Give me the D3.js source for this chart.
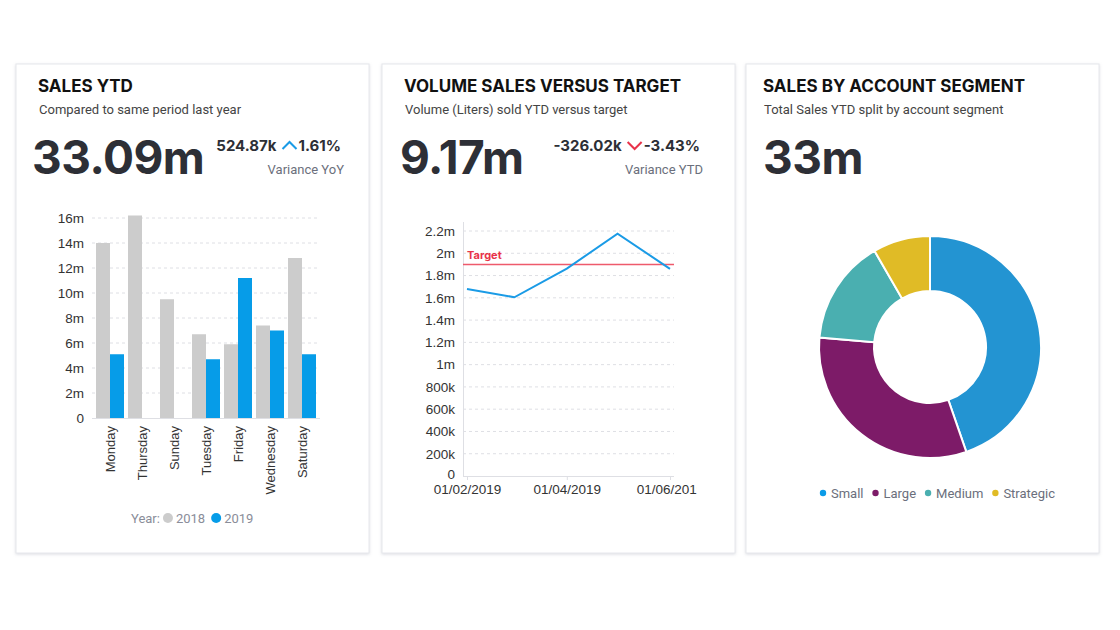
<!DOCTYPE html>
<html>
<head>
<meta charset="utf-8">
<script src="https://cdn.jsdelivr.net/npm/d3@7"></script>
<style>
  body { margin: 0; background: #fff; }
  svg { display: block; font-family: Roboto, "Noto Sans", sans-serif; }
  .heavy { font-family: Inter, Roboto, sans-serif; }
</style>
</head>
<body>
<svg id="dash" width="1120" height="630"></svg>
<script>
// sales ytd by weekday
const days = ['Monday', 'Thursday', 'Sunday', 'Tuesday', 'Friday', 'Wednesday', 'Saturday']
const years = ['2018', '2019']
const sales2018 = [14.0, 16.2, 9.5, 6.7, 5.9, 7.4, 12.8]
const sales2019 = [5.1, 0, 0, 4.7, 11.2, 7.0, 5.1]
const barTicks = [0, 2, 4, 6, 8, 10, 12, 14, 16]

// volume vs target
const months = ['2019-02-01', '2019-03-01', '2019-04-01', '2019-05-01', '2019-06-01']
const volume = [1680000, 1605000, 1862000, 2176000, 1860000]
const target = 1900000
const volTicks = [0, 200000, 400000, 600000, 800000, 1000000, 1200000, 1400000, 1600000, 1800000, 2000000, 2200000]
const dateTicks = ['2019-02-01', '2019-04-01', '2019-06-01']

// segments
const segments = ['Small', 'Large', 'Medium', 'Strategic']
const segSales = [14.75, 10.45, 5.05, 2.75]

const cards = [
  { x: 16, pad: 22, bigPad: 16, title: 'SALES YTD', sub: 'Compared to same period last year', big: '33.09m', delta: '524.87k', pct: '1.61%', up: true, note: 'Variance YoY', right: 341 },
  { x: 382, pad: 22, bigPad: 18, title: 'VOLUME SALES VERSUS TARGET', sub: 'Volume (Liters) sold YTD versus target', big: '9.17m', delta: '-326.02k', pct: '-3.43%', up: false, note: 'Variance YTD', right: 700 },
  { x: 746, pad: 17, bigPad: 17, title: 'SALES BY ACCOUNT SEGMENT', sub: 'Total Sales YTD split by account segment', big: '33m' }
]

const svg = d3.select('#dash')

const defs = svg.append('defs')
const shadow = defs.append('filter').attr('id', 'shadow')
  .attr('x', '-5%').attr('y', '-5%').attr('width', '110%').attr('height', '110%')
shadow.append('feDropShadow')
  .attr('dx', 0).attr('dy', 1).attr('stdDeviation', 1.5)
  .attr('flood-color', '#9aa0b4').attr('flood-opacity', 0.35)
defs.append('clipPath').attr('id', 'lineclip')
  .append('rect').attr('x', 382).attr('y', 200).attr('width', 315).attr('height', 320)

cards.forEach(c => {
  const g = svg.append('g')
  g.append('rect')
    .attr('x', c.x).attr('y', 64).attr('width', 353).attr('height', 489)
    .attr('fill', '#fff').attr('stroke', '#e6e7ec').attr('filter', 'url(#shadow)')
  g.append('text').attr('class', 'heavy')
    .attr('x', c.x + c.pad).attr('y', 92)
    .attr('font-size', 17).attr('font-weight', 700).attr('fill', '#111')
    .text(c.title)
  g.append('text')
    .attr('x', c.x + c.pad + 1).attr('y', 114)
    .attr('font-size', 13).attr('fill', '#444')
    .text(c.sub)
  g.append('text').attr('class', 'heavy')
    .attr('x', c.x + c.bigPad).attr('y', 174)
    .attr('font-size', 46).attr('font-weight', 700).attr('fill', '#2d2f36')
    .attr('letter-spacing', -0.5)
    .text(c.big)
  if (!c.delta) return
  const pct = g.append('text').attr('class', 'heavy')
    .attr('x', c.right).attr('y', 151).attr('text-anchor', 'end')
    .attr('font-size', 15).attr('font-weight', 700).attr('fill', '#2d2f36')
    .text(c.pct)
  const pw = pct.node().getComputedTextLength()
  const ax = c.right - pw - 2
  const arrow = c.up
    ? [[ax - 14, 149], [ax - 7, 142], [ax, 149]]
    : [[ax - 14, 142], [ax - 7, 149], [ax, 142]]
  g.append('path')
    .attr('d', d3.line()(arrow))
    .attr('fill', 'none').attr('stroke', c.up ? '#1a9be6' : '#e8334a').attr('stroke-width', 2)
  g.append('text').attr('class', 'heavy')
    .attr('x', ax - 20).attr('y', 151).attr('text-anchor', 'end')
    .attr('font-size', 15).attr('font-weight', 700).attr('fill', '#2d2f36')
    .text(c.delta)
  g.append('text')
    .attr('x', c.right + 3).attr('y', 174).attr('text-anchor', 'end')
    .attr('font-size', 13).attr('fill', '#6b6f7c')
    .text(c.note)
})

// ---- bar chart
const bars = svg.append('g')
const x0 = d3.scaleBand().domain(days).range([92, 320]).padding(0.125)
const x1 = d3.scaleBand().domain(years).range([0, x0.bandwidth()])
const yb = d3.scaleLinear().domain([0, 16]).range([418, 218])
const barColor = d3.scaleOrdinal().domain(years).range(['#cccccc', '#069ce8'])

bars.append('g').selectAll('line')
  .data(barTicks.slice(1))
  .join('line')
  .attr('x1', 92).attr('x2', 320)
  .attr('y1', d => yb(d)).attr('y2', d => yb(d))
  .attr('stroke', '#dedfe4').attr('stroke-dasharray', '3,3')

const rows = days.map((d, i) => ({ day: d, vals: [sales2018[i], sales2019[i]] }))
bars.append('g').selectAll('g')
  .data(rows)
  .join('g')
  .attr('transform', d => `translate(${x0(d.day)},0)`)
  .selectAll('rect')
  .data(d => d.vals.map((v, j) => ({ year: years[j], v })))
  .join('rect')
  .attr('x', d => x1(d.year))
  .attr('width', x1.bandwidth())
  .attr('y', d => yb(d.v))
  .attr('height', d => yb(0) - yb(d.v))
  .attr('fill', d => barColor(d.year))

const byAxis = bars.append('g')
  .attr('transform', 'translate(92,0)')
  .call(d3.axisLeft(yb).tickValues(barTicks).tickSize(0).tickPadding(8)
    .tickFormat(d => d === 0 ? '0' : d + 'm'))
byAxis.select('.domain').remove()
byAxis.selectAll('text').attr('font-size', 13.5).attr('fill', '#333').attr('font-family', null)

const bxAxis = bars.append('g')
  .attr('transform', `translate(0,${yb(0)})`)
  .call(d3.axisBottom(x0).tickSize(0))
bxAxis.select('.domain').attr('stroke', '#dedfe4').attr('d', 'M92,0.5H320')
bxAxis.selectAll('text')
  .attr('font-size', 13).attr('fill', '#333').attr('font-family', null)
  .attr('transform', 'rotate(-90)')
  .attr('text-anchor', 'end')
  .attr('x', -8).attr('y', 0).attr('dy', '0.35em')

const yearLegend = bars.append('g').attr('font-size', 13)
const yt = yearLegend.append('text').attr('x', 131).attr('y', 522.5).attr('fill', '#8a8d99').text('Year:')
let yx = 131 + yt.node().getComputedTextLength() + 8
years.forEach(yr => {
  const it = yearLegend.append('g').attr('transform', `translate(${yx},518)`)
  it.append('circle').attr('r', 5).attr('fill', barColor(yr))
  const t = it.append('text').attr('x', 8).attr('y', 4.5).attr('fill', '#8a8d99').text(yr)
  yx += 8 + t.node().getComputedTextLength() + 11
})

// ---- line chart
const parse = d3.timeParse('%Y-%m-%d')
const line = svg.append('g')
const xt = d3.scaleTime().domain([parse(months[0]), parse(months[months.length - 1])]).range([467, 670])
const yl2 = d3.scaleLinear().domain([0, 2200000]).range([476, 231])
const fmtVol = d => d === 0 ? '0' : d >= 1e6 ? (d / 1e6) + 'm' : (d / 1e3) + 'k'

line.append('g').selectAll('line')
  .data(volTicks.slice(1))
  .join('line')
  .attr('x1', 463).attr('x2', 674)
  .attr('y1', d => yl2(d)).attr('y2', d => yl2(d))
  .attr('stroke', '#dedfe4').attr('stroke-dasharray', '3,3')

const lyAxis = line.append('g')
  .attr('transform', 'translate(463,0)')
  .call(d3.axisLeft(yl2).tickValues(volTicks).tickSize(0).tickPadding(8).tickFormat(fmtVol))
lyAxis.select('.domain').attr('stroke', '#dedfe4').attr('d', `M0.5,${yl2(0)}V222`)
lyAxis.selectAll('text').attr('font-size', 13.5).attr('fill', '#333').attr('font-family', null)
lyAxis.selectAll('.tick text').filter(d => d === 0).attr('dy', '0.2em')

const lxAxis = line.append('g')
  .attr('clip-path', 'url(#lineclip)')
  .append('g')
  .attr('transform', `translate(0,${yl2(0)})`)
  .call(d3.axisBottom(xt).tickValues(dateTicks.map(parse)).tickSize(4).tickPadding(4)
    .tickFormat(d3.timeFormat('%d/%m/%Y')))
lxAxis.select('.domain').attr('stroke', '#dedfe4').attr('d', 'M463,0.5H674')
lxAxis.selectAll('line').attr('stroke', '#dedfe4')
lxAxis.selectAll('text').attr('font-size', 13.5).attr('fill', '#333').attr('font-family', null)

line.append('line')
  .attr('x1', 463).attr('x2', 674)
  .attr('y1', yl2(target)).attr('y2', yl2(target))
  .attr('stroke', '#ee5a6c').attr('stroke-width', 1.5)
line.append('text').attr('class', 'heavy')
  .attr('x', 467).attr('y', yl2(target) - 5)
  .attr('font-size', 11).attr('font-weight', 700).attr('fill', '#e8334a')
  .text('Target')

line.append('path')
  .datum(months.map((m, i) => ({ date: parse(m), v: volume[i] })))
  .attr('fill', 'none').attr('stroke', '#1a9be6').attr('stroke-width', 2)
  .attr('d', d3.line().x(d => xt(d.date)).y(d => yl2(d.v)))

// ---- donut
const segColor = d3.scaleOrdinal().domain(segments).range(['#2394d2', '#7d1b68', '#4aafb0', '#e0bb26'])
const pie = d3.pie().sort(null).value(d => d.v)
const arc = d3.arc().innerRadius(56).outerRadius(111)
const donut = svg.append('g').attr('transform', 'translate(930,347)')
donut.selectAll('path')
  .data(pie(segments.map((s, i) => ({ s, v: segSales[i] }))))
  .join('path')
  .attr('d', arc)
  .attr('fill', d => segColor(d.data.s))
  .attr('stroke', '#fff').attr('stroke-width', 2)

const segLegend = svg.append('g').attr('font-size', 13)
let lx = 823
segments.forEach(s => {
  const it = segLegend.append('g').attr('transform', `translate(${lx},493)`)
  it.append('circle').attr('r', 3.2).attr('fill', s === 'Small' ? '#0a9be8' : segColor(s))
  const t = it.append('text').attr('x', 8).attr('y', 4.5).attr('fill', '#6b6f7c').text(s)
  lx += 8 + t.node().getComputedTextLength() + 12
})
</script>
</body>
</html>
